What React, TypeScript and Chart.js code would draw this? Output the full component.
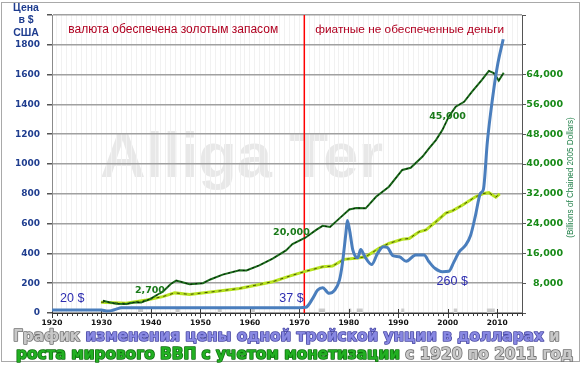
import React, { useEffect, useRef } from 'react';
import { Chart, registerables } from 'chart.js';

Chart.register(...registerables);

// ---- data ----
const GOLD_YEARS = [1920, 1930, 1931, 1932, 1933, 1934, 1970, 1971.3, 1972.7, 1973.7, 1974.7, 1976, 1977.1, 1978.1, 1978.7, 1979.4, 1979.7, 1980.2, 1980.8, 1981.8, 1982.4, 1983.2, 1984.6, 1985.8, 1987, 1987.8, 1988.9, 1990.2, 1991.6, 1993.5, 1995.2, 1996.2, 1997.4, 1998.9, 2000.2, 2001.2, 2002.3, 2003.6, 2004.6, 2005.6, 2006.6, 2007.2, 2008, 2009, 2010, 2011.2];
const GOLD_PRICE = [20, 20, 14, 16, 26, 35, 36, 38, 98, 154, 170, 132, 152, 220, 333, 535, 620, 546, 423, 370, 427, 380, 325, 400, 445, 440, 385, 378, 347, 389, 389, 344, 300, 277, 280, 340, 410, 455, 520, 655, 803, 830, 1150, 1430, 1653, 1837];

const GDP_YEARS = [1930.3, 1931.5, 1933, 1935, 1936.5, 1938, 1939.8, 1941.8, 1942.4, 1944, 1945.1, 1946, 1947.8, 1950.5, 1952, 1954.5, 1957.9, 1959.3, 1961.9, 1964.6, 1967.3, 1968.6, 1971.2, 1973.4, 1974.7, 1976.2, 1978.1, 1980.1, 1981.5, 1983.4, 1985.5, 1988.1, 1990.8, 1992.5, 1994.9, 1996.2, 1997.6, 1998.9, 2000.2, 2001.6, 2003.3, 2004.9, 2006.9, 2008.3, 2009.3, 2010.3, 2011.3];
const GDP_VALUES = [3300, 2900, 2500, 2400, 2800, 2800, 3700, 5300, 5700, 7800, 8700, 8400, 7700, 8000, 9000, 10300, 11500, 11400, 12800, 14600, 16800, 18500, 20200, 22300, 23400, 23100, 25400, 27800, 28200, 28100, 31200, 33900, 38400, 39000, 42000, 44200, 46400, 49100, 52700, 55400, 56700, 59400, 62600, 65000, 64400, 62400, 64500];

const MON_YEARS = [1929.9, 1935, 1939.1, 1942.4, 1944.8, 1947.8, 1952.5, 1957.9, 1964.6, 1968, 1971, 1974.7, 1976.7, 1979, 1981.4, 1983.4, 1986.1, 1988.1, 1990.8, 1992.2, 1994.2, 1995.6, 1997.6, 1999.6, 2001, 2003, 2005.6, 2007.3, 2008.3, 2009.7, 2010.5];
const MON_VALUES = [2900, 2600, 3500, 4400, 5400, 5000, 5700, 6600, 8400, 9900, 11100, 12400, 12600, 14400, 14700, 15100, 17400, 18700, 19800, 20000, 21800, 22300, 24500, 26800, 27500, 29000, 31200, 32100, 32300, 31100, 32000];

const RECESSIONS = [[1937.4, 1938.4], [1945, 1945.8], [1953.5, 1954.3], [1960.3, 1961], [1973.9, 1975.2], [1980, 1980.5], [1981.6, 1982.8], [1990.6, 1991.2], [2001.2, 2001.9], [2007.9, 2009.5]];

const FIAT_YEAR = 1971;
const PRICE_NOTES = [
  { text: '20 $', x: 1924.1, y: 94 },
  { text: '37 $', x: 1968.4, y: 100 },
  { text: '260 $', x: 2000.9, y: 208 },
];
const GDP_NOTES = [
  { text: '2,700', x: 1939.8, y: 6000 },
  { text: '20,000', x: 1968.4, y: 21560 },
  { text: '45,000', x: 1999.95, y: 52800 },
];
const ERA_LABELS = [
  { text: 'валюта обеспечена золотым запасом', x: 1944.5, y: 1900 },
  { text: 'фиатные не обеспеченные деньги', x: 1992.3, y: 1900 },
];
const LEFT_TITLE = ['Цена', 'в $', 'США'];
const RIGHT_TITLE = '(Billions of Chained 2005 Dollars)';
const WATERMARK = 'Alliga Ter';
const TITLE_LINE1 = [
  { text: 'График ', kind: 'gray' },
  { text: 'изменения цены одной тройской унции в долларах', kind: 'blue' },
  { text: ' и', kind: 'gray' },
];
const TITLE_LINE2 = [
  { text: 'роста мирового ВВП с учетом монетизации', kind: 'green' },
  { text: ' с 1920 по 2011 год', kind: 'gray' },
];

const TITLE_STYLE: Record<string, { fill: string; stroke: string }> = {
  gray: { fill: '#c8c8c8', stroke: '#707070' },
  blue: { fill: '#8888e2', stroke: '#4a4aa4' },
  green: { fill: '#22b022', stroke: '#107010' },
};

function setFit(ctx: CanvasRenderingContext2D, text: string, weight: string, family: string, width: number) {
  ctx.font = `${weight} 40px ${family}`;
  const w = ctx.measureText(text).width || 1;
  const size = (40 * width) / w;
  ctx.font = `${weight} ${size.toFixed(2)}px ${family}`;
  return size;
}

function drawTitleLine(ctx: CanvasRenderingContext2D, parts: { text: string; kind: string }[], x: number, y: number, width: number) {
  const full = parts.map((p) => p.text).join('');
  setFit(ctx, full, 'bold', '"DejaVu Sans"', width);
  ctx.textAlign = 'left';
  ctx.textBaseline = 'middle';
  ctx.lineJoin = 'round';
  let cx = x;
  for (const p of parts) {
    const st = TITLE_STYLE[p.kind];
    ctx.lineWidth = 1.6;
    ctx.strokeStyle = st.stroke;
    ctx.strokeText(p.text, cx, y);
    ctx.fillStyle = st.fill;
    ctx.fillText(p.text, cx, y);
    cx += ctx.measureText(p.text).width;
  }
}

const decor = {
  id: 'decor',
  beforeDraw(chart: any) {
    const { ctx } = chart;
    ctx.save();
    ctx.strokeStyle = '#a9a9a9';
    ctx.lineWidth = 1;
    ctx.strokeRect(1.5, 2.5, 578, 359);
    setFit(ctx, WATERMARK, 'bold', '"Liberation Sans"', 283);
    ctx.fillStyle = '#e8e8e8';
    ctx.textAlign = 'left';
    ctx.textBaseline = 'alphabetic';
    ctx.fillText(WATERMARK, 100, 177);
    ctx.restore();
  },
  beforeDatasetsDraw(chart: any) {
    const { ctx, chartArea: ca, scales } = chart;
    const xs = scales.x;
    const ys = scales.y;
    ctx.save();
    ctx.fillStyle = '#cccccc';
    const y0 = ys.getPixelForValue(30);
    for (const [a, b] of RECESSIONS) {
      const x0 = xs.getPixelForValue(a);
      const x1 = xs.getPixelForValue(b);
      ctx.fillRect(x0, y0, Math.max(x1 - x0, 2), ca.bottom - y0);
    }
    const fx = xs.getPixelForValue(FIAT_YEAR);
    ctx.strokeStyle = '#ff0000';
    ctx.lineWidth = 1.5;
    ctx.beginPath();
    ctx.moveTo(fx, ca.top);
    ctx.lineTo(fx, ca.bottom);
    ctx.stroke();
    ctx.strokeStyle = '#3a3a3a';
    ctx.lineWidth = 1;
    for (let yr = Math.ceil(xs.min); yr <= xs.max; yr++) {
      const px = Math.round(xs.getPixelForValue(yr)) + 0.5;
      const major = yr % 10 === 0;
      ctx.beginPath();
      ctx.moveTo(px, ca.bottom + (major ? -4 : 0));
      ctx.lineTo(px, ca.bottom + (major ? 5 : 3));
      ctx.stroke();
    }
    ctx.restore();
  },
  afterDatasetsDraw(chart: any) {
    const { ctx, chartArea: ca, scales } = chart;
    const xs = scales.x;
    const ys = scales.y;
    const y1 = scales.y1;
    ctx.save();
    ctx.textAlign = 'center';
    ctx.textBaseline = 'middle';
    ctx.font = '12.5px "Liberation Sans"';
    ctx.fillStyle = '#2d2db0';
    for (const n of PRICE_NOTES) ctx.fillText(n.text, xs.getPixelForValue(n.x), ys.getPixelForValue(n.y));
    ctx.font = 'bold 9.5px "DejaVu Sans"';
    ctx.fillStyle = '#1a7a1a';
    for (const n of GDP_NOTES) ctx.fillText(n.text, xs.getPixelForValue(n.x), y1.getPixelForValue(n.y));
    ctx.fillStyle = '#b00020';
    const eraWidths = [210, 189];
    ERA_LABELS.forEach((e, i) => {
      setFit(ctx, e.text, 'normal', '"Liberation Sans"', eraWidths[i]);
      ctx.fillText(e.text, xs.getPixelForValue(e.x), ys.getPixelForValue(e.y));
    });
    ctx.font = 'bold 10.5px "Liberation Sans"';
    ctx.fillStyle = '#1f3d8f';
    LEFT_TITLE.forEach((t, i) => ctx.fillText(t, ca.left / 2, 8 + i * 12.5));
    ctx.save();
    ctx.translate(571, 177.5);
    ctx.rotate(-Math.PI / 2);
    setFit(ctx, RIGHT_TITLE, 'normal', '"Liberation Sans"', 121);
    ctx.fillStyle = '#22804a';
    ctx.fillText(RIGHT_TITLE, 0, 0);
    ctx.restore();
    drawTitleLine(ctx, TITLE_LINE1, 13, 337, 547);
    drawTitleLine(ctx, TITLE_LINE2, 16, 355, 557);
    ctx.restore();
  },
};

const pts = (xs: number[], ys: number[]) => xs.map((x, i) => ({ x, y: ys[i] }));

export default function App() {
  const ref = useRef<HTMLCanvasElement>(null);
  useEffect(() => {
    document.body.style.margin = '0';
    const canvas = ref.current!;
    const chart = new Chart(canvas, {
      type: 'line',
      data: {
        datasets: [
          {
            label: 'gold',
            data: pts(GOLD_YEARS, GOLD_PRICE),
            yAxisID: 'y',
            borderColor: '#4a7ebd',
            borderWidth: 3,
            pointRadius: 0,
            cubicInterpolationMode: 'monotone',
          },
          {
            label: 'gdp-dots',
            data: pts(GDP_YEARS, GDP_VALUES),
            yAxisID: 'y1',
            borderColor: 'rgba(0,0,0,0.8)',
            borderWidth: 1,
            borderDash: [2, 3],
            pointRadius: 0,
          },
          {
            label: 'gdp',
            data: pts(GDP_YEARS, GDP_VALUES),
            yAxisID: 'y1',
            borderColor: '#1c6e1c',
            borderWidth: 2,
            pointRadius: 0,
          },
          {
            label: 'mon-dots',
            data: pts(MON_YEARS, MON_VALUES),
            yAxisID: 'y1',
            borderColor: 'rgba(30,30,0,0.75)',
            borderWidth: 1,
            borderDash: [3, 4],
            pointRadius: 0,
          },
          {
            label: 'mon',
            data: pts(MON_YEARS, MON_VALUES),
            yAxisID: 'y1',
            borderColor: '#b6e21e',
            borderWidth: 3,
            pointRadius: 0,
          },
        ],
      },
      options: {
        animation: false,
        responsive: false,
        devicePixelRatio: 1,
        layout: { padding: { top: 15, left: 0, right: 20, bottom: 0 } },
        plugins: { legend: { display: false }, tooltip: { enabled: false }, title: { display: false } },
        scales: {
          x: {
            type: 'linear',
            min: 1920,
            max: 2015,
            afterFit: (s: any) => { s.height = 53; },
            border: { color: '#333333', width: 1 },
            grid: { color: '#f1f1f1', drawTicks: false, lineWidth: 1 },
            ticks: {
              stepSize: 1,
              autoSkip: false,
              maxRotation: 0,
              padding: 6,
              color: '#111111',
              font: { family: 'DejaVu Sans', weight: 'bold', size: 7.5 },
              callback: (v: any) => (Number(v) % 10 === 0 ? String(v) : ''),
            },
          },
          y: {
            position: 'left',
            min: 0,
            max: 2000,
            afterFit: (s: any) => { s.width = 52; },
            border: { color: '#8a8a8a', width: 1 },
            grid: { color: '#a0a0a0', lineWidth: 1.5, tickLength: 5, tickColor: '#555555' },
            ticks: {
              stepSize: 200,
              padding: 7,
              color: '#1f3d8f',
              font: { family: 'DejaVu Sans', weight: 'bold', size: 9 },
              callback: (v: any) => (Number(v) >= 2000 ? '' : String(v)),
            },
          },
          y1: {
            position: 'right',
            min: 0,
            max: 80000,
            afterFit: (s: any) => { s.width = 41; },
            border: { color: '#555555', width: 1 },
            grid: { drawOnChartArea: false, tickLength: 4, tickColor: '#555555' },
            ticks: {
              stepSize: 8000,
              padding: 0,
              crossAlign: 'far',
              color: '#178a17',
              font: { family: 'DejaVu Sans', weight: 'bold', size: 9.5 },
              callback: (v: any) => {
                const n = Number(v);
                return n === 0 || n > 64000 ? '' : n.toLocaleString('en-US');
              },
            },
          },
        },
      },
      plugins: [decor],
    } as any);
    return () => chart.destroy();
  }, []);
  return (
    <div style={{ width: 583, height: 366, background: '#ffffff' }}>
      <canvas ref={ref} width={583} height={366} style={{ display: 'block' }} />
    </div>
  );
}
